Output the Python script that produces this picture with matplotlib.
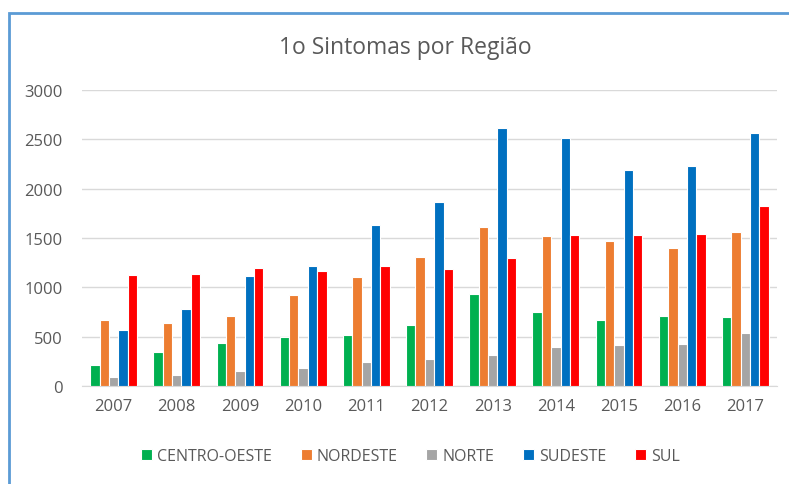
import numpy as np
import matplotlib.pyplot as plt
from matplotlib.patches import Rectangle

years = ["2007", "2008", "2009", "2010", "2011", "2012", "2013", "2014", "2015", "2016", "2017"]
centro_oeste = [213, 341, 436, 500, 513, 618, 929, 747, 672, 706, 696]
nordeste = [672, 642, 706, 919, 1101, 1304, 1615, 1517, 1466, 1398, 1561]
norte = [95, 108, 149, 179, 247, 270, 311, 395, 415, 429, 534]
sudeste = [568, 780, 1111, 1219, 1635, 1861, 2618, 2510, 2192, 2233, 2567]
sul = [1121, 1135, 1196, 1165, 1219, 1186, 1294, 1527, 1527, 1537, 1828]

series = [("CENTRO-OESTE", centro_oeste, "#00B050"),
          ("NORDESTE", nordeste, "#ED7D31"),
          ("NORTE", norte, "#A5A5A5"),
          ("SUDESTE", sudeste, "#0070C0"),
          ("SUL", sul, "#FF0000")]

plt.rcParams['font.family'] = ['Open Sans', 'DejaVu Sans']
txt = "#595959"

fig = plt.figure(figsize=(7.89, 4.85), dpi=100)
ax = fig.add_axes([0.1039, 0.2021, 0.8809, 0.6103])

x = np.arange(len(years))
w = 0.148
for i, (name, vals, col) in enumerate(series):
    ax.bar(x + (i - 2) * w, vals, w, color=col, edgecolor="white", linewidth=0.8, label=name, zorder=3)

ax.set_xlim(-0.5, len(years) - 0.5)
ax.set_ylim(0, 3000)
ax.set_yticks(range(0, 3001, 500))
ax.set_xticks(x)
ax.set_xticklabels(years)
ax.grid(axis="y", color="#D9D9D9", linewidth=1, zorder=0)
for s in ["top", "right", "left"]:
    ax.spines[s].set_visible(False)
ax.spines["bottom"].set_color("#D9D9D9")
ax.tick_params(length=0, labelsize=12, colors=txt)
ax.tick_params(axis="x", pad=9)
ax.tick_params(axis="y", pad=14)

fig.text(0.514, 0.9, "1o Sintomas por Região", ha="center", va="center", fontsize=16.5, color=txt)

fig.legend(loc="center", bbox_to_anchor=(0.52, 0.058), ncol=5, frameon=False,
           fontsize=11.5, labelcolor=txt, handlelength=0.7, handleheight=0.7,
           handletextpad=0.3, columnspacing=1.8)

# moldura do gráfico
fig.patches.append(Rectangle((9 / 789, -0.1), 1.1, (485 - 14) / 485 + 0.1, transform=fig.transFigure,
                             fill=False, edgecolor="#5B9BD5", linewidth=2))

fig.savefig("out.png", dpi=100)
